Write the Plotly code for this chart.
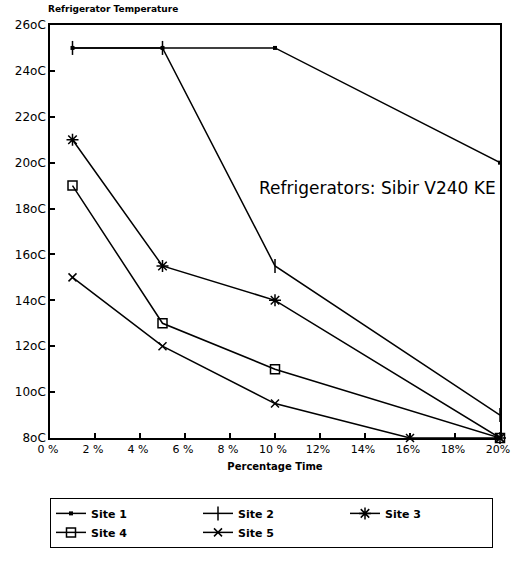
import plotly.graph_objects as go

x_pct = [1, 5, 10, 20]
site1 = [25, 25, 25, 20]
site2 = [25, 25, 15.5, 9]
site3 = [21, 15.5, 14, 8]
site4 = [19, 13, 11, 8]
x_site5 = [1, 5, 10, 16, 20]
site5 = [15, 12, 9.5, 8, 8]

y_ticks = [8, 10, 12, 14, 16, 18, 20, 22, 24, 26]
y_ticktext = ["8oC", "10oC", "12oC", "14oC", "16oC", "18oC", "20oC", "22oC", "24oC", "26oC"]
x_ticks = [0, 2, 4, 6, 8, 10, 12, 14, 16, 18, 20]
x_ticktext = ["0 %", "2 %", "4 %", "6 %", "8 %", "10 %", "12%", "14%", "16%", "18%", "20%"]

FONT = "DejaVu Sans"
line = dict(color="black", width=1.5)

fig = go.Figure()
series = [
    ("Site 1", x_pct, site1, dict(symbol="square", size=4, color="black")),
    ("Site 2", x_pct, site2, dict(symbol="line-ns-open", size=10, line=dict(color="black", width=1.5))),
    ("Site 3", x_pct, site3, dict(symbol="asterisk-open", size=10, line=dict(color="black", width=1.5))),
    ("Site 4", x_pct, site4, dict(symbol="square-open", size=9, line=dict(color="black", width=1.5))),
    ("Site 5", x_site5, site5, dict(symbol="x-thin-open", size=8, line=dict(color="black", width=1.5))),
]
for name, xs, ys, mk in series:
    fig.add_trace(go.Scatter(x=xs, y=ys, name=name, mode="lines+markers",
                             line=line, marker=mk, cliponaxis=False))

fig.add_annotation(text="Refrigerators: Sibir V240 KE", xref="paper", x=0.995, xanchor="right",
                   yref="y", y=18.9, yanchor="middle", showarrow=False,
                   font=dict(family=FONT, size=17, color="black"))

fig.update_layout(
    width=511, height=563,
    margin=dict(l=50, r=11, t=25, b=125),
    paper_bgcolor="white", plot_bgcolor="white",
    title=dict(text="<b>Refrigerator Temperature</b>", x=48/511, xanchor="left",
               y=1 - 9/563, yanchor="middle",
               font=dict(family=FONT, size=9, color="black")),
    xaxis=dict(range=[0, 20], tickvals=x_ticks, ticktext=x_ticktext,
               showline=True, mirror=True, linecolor="black", linewidth=1.5,
               ticks="inside", ticklen=5, tickwidth=1.5, tickcolor="black",
               showgrid=False, zeroline=False, ticklabeloverflow="allow",
               ticklabelshift=-2, automargin=False,
               tickfont=dict(family=FONT, size=11, color="black"),
               title=dict(text="<b>Percentage Time</b>", standoff=8,
                          font=dict(family=FONT, size=10, color="black"))),
    yaxis=dict(range=[8, 26], tickvals=y_ticks, ticktext=y_ticktext,
               showline=True, mirror=True, linecolor="black", linewidth=1.5,
               ticks="inside", ticklen=5, tickwidth=1.5, tickcolor="black",
               showgrid=False, zeroline=False, automargin=False,
               tickfont=dict(family=FONT, size=12, color="black")),
    showlegend=True,
    legend=dict(orientation="h", x=0, xanchor="left", y=-0.145, yanchor="top",
                entrywidth=102, entrywidthmode="pixels",
                bordercolor="black", borderwidth=1, bgcolor="white",
                font=dict(family=FONT, size=11, color="black", weight="bold")),
)

fig.write_html("out.html", config={"displayModeBar": False},
               post_script="document.body.style.margin='0';")
